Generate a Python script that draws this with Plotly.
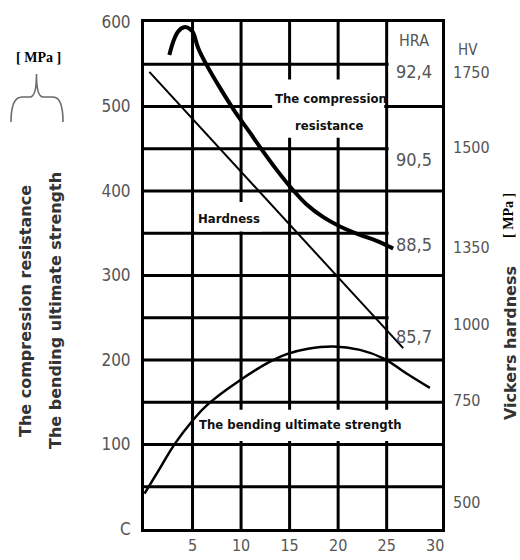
import plotly.graph_objects as go

W, H = 520, 560
L, R, T, B = 144, 78, 22, 31
PW, PH = W - L - R, H - T - B


def px(x):
    return (x - L) / PW


def py(y):
    return (H - B - y) / PH


# ---------------- data ----------------
x_ticks = [5, 10, 15, 20, 25, 30]
x_ticklabels = ["5", "10", "15", "20", "25", "30"]
y_ticks = [0, 100, 200, 300, 400, 500, 600]
y_ticklabels = ["C", "100", "200", "300", "400", "500", "600"]

comp_x = [2.61, 3.02, 3.53, 4.22, 4.81, 5.08, 5.59, 6.46, 7.83, 9.37, 10.92,
          11.95, 13.67, 15.21, 16.76, 18.47, 20.19, 22.25, 23.97, 25.67]
comp_y = [561, 577, 589, 594, 591, 587, 569, 549, 522, 494, 469,
          452, 425, 403, 384, 369, 358, 348, 341, 332]

hard_x = [0.55, 26.7]
hard_y = [541, 214]

bend_x = [0.05, 1.65, 3.19, 4.91, 6.63, 9.89, 12.98, 14.7, 16.76, 19.5,
          22.25, 24.65, 27.05, 29.45]
bend_y = [42, 72, 101, 127, 148, 176, 198, 207, 213, 216,
          212, 202, 184, 167]

hra_labels = ["HRA", "92,4", "90,5", "88,5", "85,7"]
hv_labels = ["HV", "1750", "1500", "1350", "1000", "750", "500"]

XMAX = 30.7
NUM_FONT = "DejaVu Sans Condensed, sans-serif"
GRAY = "#555555"

fig = go.Figure()
fig.add_trace(go.Scatter(x=comp_x, y=comp_y, mode="lines",
                         line=dict(color="black", width=4, shape="spline", smoothing=1.0),
                         hoverinfo="skip", showlegend=False))
fig.add_trace(go.Scatter(x=hard_x, y=hard_y, mode="lines",
                         line=dict(color="black", width=2),
                         hoverinfo="skip", showlegend=False))
fig.add_trace(go.Scatter(x=bend_x, y=bend_y, mode="lines",
                         line=dict(color="black", width=2.5, shape="spline", smoothing=1.3),
                         hoverinfo="skip", showlegend=False))

shapes = []
# grid
for yv in range(50, 600, 50):
    shapes.append(dict(type="line", xref="x", yref="y", x0=0, x1=XMAX, y0=yv, y1=yv,
                       line=dict(color="black", width=3), layer="below"))
for xv in range(5, 30, 5):
    shapes.append(dict(type="line", xref="x", yref="y", x0=xv, x1=xv, y0=0, y1=600,
                       line=dict(color="black", width=3), layer="below"))
# white gaps behind labels
white = dict(color="white", width=0)
gaps = [
    (13.2, 24.75, 463, 532),   # compression label
    (5.46, 12.15, 352, 387),   # hardness label
    (6.28, 25.6, 104, 141),    # bending label
    (25.2, XMAX, 540, 560),
    (25.2, XMAX, 440, 460),
    (25.2, XMAX, 340, 360),
    (25.2, XMAX, 240, 260),
]
for x0, x1, y0, y1 in gaps:
    shapes.append(dict(type="rect", xref="x", yref="y", x0=x0, x1=x1, y0=y0, y1=y1,
                       fillcolor="white", line=white, layer="below"))

# brace under [MPa]
pts = "M {a} {b} Q {c} {d} {e} {f} L {g} {f} Q {h} {f} {h} {i} Q {h} {f} {j} {f} L {k} {f} Q {l} {f} {l} {b}"
bp = pts.format(a=px(11), b=py(122), c=px(11), d=py(97), e=px(22), f=py(97), g=px(30),
                h=px(36.5), i=py(74), j=px(43), k=px(53), l=px(63))
shapes.append(dict(type="path", xref="paper", yref="paper", path=bp,
                   line=dict(color="#6a6a6a", width=1.6)))

ann = []


def text(x, y, s, size, color="black", family=NUM_FONT, angle=0, xanchor="center"):
    ann.append(dict(x=px(x), y=py(y), xref="paper", yref="paper", text=s, showarrow=False,
                    font=dict(size=size, color=color, family=family), textangle=angle,
                    xanchor=xanchor, yanchor="middle"))


INNER = "DejaVu Sans Condensed, sans-serif"
text(331, 98, "<b>The compression</b>", 13, "#111111", INNER)
text(329, 125, "<b>resistance</b>", 13, "#111111", INNER)
text(229, 218, "<b>Hardness</b>", 13, "#111111", INNER)
text(300, 424, "<b>The bending ultimate strength</b>", 13, "#111111", INNER)

hra_y = [41, 72, 160, 244, 336]
for s, yy in zip(hra_labels, hra_y):
    text(414, yy, s, 18 if s != "HRA" else 16, GRAY)

hv_y = [50, 73, 147, 248, 325, 400, 502]
for s, yy in zip(hv_labels, hv_y):
    text(451 if s != "HV" else 456, yy, s, 16 if s != "HV" else 15, GRAY, xanchor="left")

BOLD = "DejaVu Sans, Verdana, sans-serif"
text(25, 311, "<b>The compression resistance</b>", 16, "#333333", BOLD, angle=-90)
text(55, 311, "<b>The bending ultimate strength</b>", 16, "#333333", BOLD, angle=-90)
text(510, 343, "<b>Vickers hardness</b>", 16, "#333333", BOLD, angle=-90)
SERIF = "Liberation Serif, DejaVu Serif, serif"
text(38, 57, "<b>[ MPa ]</b>", 14, "black", SERIF)
text(509, 216, "<b>[ MPa ]</b>", 14, "black", SERIF, angle=-90)

fig.update_layout(
    width=W, height=H,
    margin=dict(l=L, r=R, t=T, b=B, pad=0, autoexpand=False),
    paper_bgcolor="white", plot_bgcolor="white",
    shapes=shapes, annotations=ann,
    xaxis=dict(range=[0, XMAX], showgrid=False, zeroline=False, automargin=False,
               showline=True, mirror=True, linecolor="black", linewidth=3,
               tickvals=x_ticks, ticktext=x_ticklabels, ticks="",
               ticklabelstandoff=0,
               tickfont=dict(family=NUM_FONT, size=16, color=GRAY)),
    yaxis=dict(range=[0, 600], showgrid=False, zeroline=False, automargin=False,
               showline=True, mirror=True, linecolor="black", linewidth=3,
               tickvals=y_ticks, ticktext=y_ticklabels, ticks="",
               ticklabelstandoff=7,
               tickfont=dict(family=NUM_FONT, size=17, color=GRAY)),
)

fig.write_html("out.html")
